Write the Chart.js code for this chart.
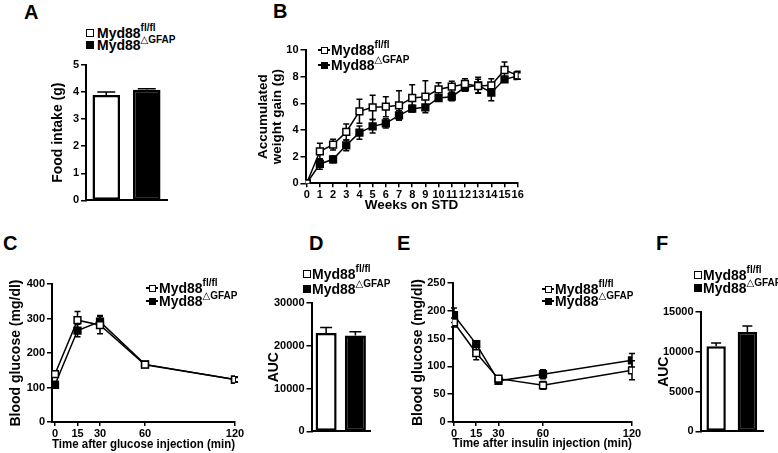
<!DOCTYPE html>
<html>
<head>
<meta charset="utf-8">
<script src="https://cdn.jsdelivr.net/npm/chart.js@4"></script>
<style>
  body { margin: 0; background: #fff; }
  #page { position: relative; width: 778px; height: 453px; overflow: hidden; font-family: 'Liberation Sans', Arial, sans-serif; font-weight: bold; color: #000; }
  canvas { position: absolute; }
  .letter { position: absolute; font-size: 20px; line-height: 20px; }
  .row { position: absolute; height: 16px; display: flex; align-items: center; font-size: 14px; white-space: nowrap; }
  .row sup { font-size: 10px; position: relative; top: -5px; line-height: 10px; }
  .tri { font-family: 'DejaVu Sans', sans-serif; font-weight: normal; font-size: 10px; }
  .sq { display: inline-block; box-sizing: border-box; width: 8px; height: 8px; border: 1.5px solid #000; }
  .lm { display: inline-block; position: relative; width: 12px; height: 8px; }
  .lm .ln { position: absolute; left: 0; right: 0; top: 3.25px; height: 1.5px; background: #000; }
  .lm .pt { position: absolute; left: 2.5px; top: 0.5px; width: 7px; height: 7px; box-sizing: border-box; border: 1.5px solid #000; }
</style>
</head>
<body>
<div id="page">
  <canvas id="chartA" width="122" height="154" style="left:50px;top:55px"></canvas>
  <canvas id="chartB" width="276" height="173" style="left:256px;top:40px"></canvas>
  <canvas id="chartC" width="242" height="182" style="left:8px;top:270px"></canvas>
  <canvas id="chartD" width="109" height="147" style="left:266px;top:293px"></canvas>
  <canvas id="chartE" width="238" height="181" style="left:410px;top:270px"></canvas>
  <canvas id="chartF" width="112" height="138" style="left:656px;top:302px"></canvas>
</div>
<script>
// groups
const groups = ['Myd88fl/fl', 'Myd88\u25B3GFAP'];

// A - food intake
const foodIntake = [3.89, 4.09];
const foodIntakeErr = [0.11, 0.03];

// B - weight gain on STD
const weeks = [0, 1, 2, 3, 4, 5, 6, 7, 8, 9, 10, 11, 12, 13, 14, 15, 16];
const weightFl = [0, 2.4, 2.9, 3.85, 5.4, 5.7, 5.75, 5.85, 6.4, 6.5, 7.05, 7.25, 7.45, 7.3, 7.35, 8.5, 8.1];
const weightFlErr = [0, 0.6, 0.4, 0.6, 0.9, 0.9, 0.75, 1.1, 1.0, 1.2, 0.5, 0.4, 0.4, 0.5, 0.5, 0.6, 0.3];
const weightKo = [0, 1.45, 1.8, 2.85, 3.8, 4.27, 4.5, 5.1, 5.6, 5.7, 6.4, 6.5, 7.2, 7.35, 6.8, 7.8, 8.05];
const weightKoErr = [0, 0.4, 0.25, 0.4, 0.5, 0.5, 0.35, 0.35, 0.25, 0.2, 0.2, 0.3, 0.3, 0.6, 0.6, 0.15, 0.25];

// C - GTT
const gttTimes = [0, 15, 30, 60, 120];
const gttFl = [139, 295, 281, 166, 123];
const gttFlErr = [8, 25, 25, 5, 8];
const gttKo = [108, 265, 291, 167, 123];
const gttKoErr = [8, 18, 18, 5, 6];

// D - GTT AUC
const gttAuc = [23000, 22400];
const gttAucErr = [1300, 900];

// E - ITT
const ittTimes = [0, 15, 30, 60, 120];
const ittFl = [179, 124, 78, 66, 93];
const ittFlErr = [8, 12, 5, 7, 17];
const ittKo = [192, 140, 74, 86, 111];
const ittKoErr = [13, 5, 4, 8, 12];

// F - ITT AUC
const ittAuc = [10700, 12500];
const ittAucErr = [400, 750];

Chart.defaults.font.family = "'Liberation Sans', Arial, sans-serif";
Chart.defaults.font.weight = 'bold';
Chart.defaults.font.size = 11;
Chart.defaults.color = '#000';
Chart.defaults.animation = false;
Chart.defaults.responsive = false;
Chart.defaults.plugins.legend.display = false;
Chart.defaults.plugins.tooltip.enabled = false;

// error bars (SEM), drawn under the markers
const errorBars = {
  id: 'errorBars',
  beforeDatasetsDraw(chart) {
    const ctx = chart.ctx;
    const y = chart.scales.y;
    const isBar = chart.config.type === 'bar';
    chart.data.datasets.forEach((ds, i) => {
      if (!ds.errors) return;
      const meta = chart.getDatasetMeta(i);
      meta.data.forEach((el, j) => {
        const e = ds.errors[j];
        if (!e) return;
        const raw = ds.data[j];
        const v = typeof raw === 'object' ? raw.y : raw;
        const top = y.getPixelForValue(v + e);
        const bot = isBar ? y.getPixelForValue(v) : y.getPixelForValue(v - e);
        const cap = ds.cap || 3;
        ctx.save();
        ctx.strokeStyle = '#000';
        ctx.lineWidth = 1.5;
        ctx.beginPath();
        ctx.moveTo(el.x, top); ctx.lineTo(el.x, bot);
        ctx.moveTo(el.x - cap, top); ctx.lineTo(el.x + cap, top);
        if (!isBar) { ctx.moveTo(el.x - cap, bot); ctx.lineTo(el.x + cap, bot); }
        ctx.stroke();
        ctx.restore();
      });
    });
  }
};

function yAxis(min, max, step, title, width, size, lh) {
  return {
    min: min, max: max,
    ticks: { stepSize: step, padding: 2, font: { size: 11, weight: 'bold' }, callback: v => String(v) },
    grid: { drawOnChartArea: false, tickLength: 5, color: '#000', lineWidth: 1.5 },
    border: { color: '#000', width: 2 },
    title: { display: true, text: title, padding: 0, font: { size: size || 14, weight: 'bold', lineHeight: lh || 1.2 } },
    afterFit: s => { s.width = width; }
  };
}

function xLinear(min, max, vals, title, size, height) {
  return {
    type: 'linear', min: min, max: max,
    afterBuildTicks: s => { s.ticks = vals.map(v => ({ value: v })); },
    ticks: { padding: 1, maxRotation: 0, autoSkip: false, font: { size: 11, weight: 'bold' }, callback: v => String(v) },
    grid: { drawOnChartArea: false, tickLength: 4, color: '#000', lineWidth: 1.5 },
    border: { color: '#000', width: 2 },
    title: { display: true, text: title, padding: 0, font: { size: size, weight: 'bold' } },
    afterFit: s => { s.height = height; }
  };
}

function xCategory(height) {
  return {
    type: 'category',
    ticks: { display: false },
    grid: { display: false },
    border: { color: '#000', width: 2 },
    afterFit: s => { s.height = height; }
  };
}

function lineSet(label, xs, ys, errs, fill) {
  return {
    label: label,
    data: xs.map((x, i) => ({ x: x, y: ys[i] })),
    errors: errs,
    borderColor: '#000',
    borderWidth: 1.5,
    pointStyle: 'rect',
    pointRadius: 4.8,
    pointBackgroundColor: fill,
    pointBorderColor: '#000',
    pointBorderWidth: 1.5,
    cap: 3
  };
}

function barSet(vals, errs, pct, cap) {
  return {
    data: vals,
    errors: errs,
    backgroundColor: ['#fff', '#000'],
    borderColor: '#000',
    borderWidth: 2.5,
    borderSkipped: false,
    barPercentage: pct,
    categoryPercentage: 1,
    cap: cap
  };
}

// A
new Chart(document.getElementById('chartA'), {
  type: 'bar',
  data: { labels: groups, datasets: [barSet(foodIntake, foodIntakeErr, 0.68, 9)] },
  options: {
    layout: { padding: { top: 10, right: 5, left: 0, bottom: 0 } },
    scales: { x: xCategory(3.5), y: yAxis(0, 5, 1, 'Food intake (g)', 36) }
  },
  plugins: [errorBars]
});

// B
new Chart(document.getElementById('chartB'), {
  type: 'line',
  data: { datasets: [
    lineSet(groups[0], weeks, weightFl, weightFlErr, '#fff'),
    lineSet(groups[1], weeks, weightKo, weightKoErr, '#000')
  ] },
  options: {
    layout: { padding: { top: 10, right: 14.3, left: 0, bottom: 0 } },
    scales: {
      x: xLinear(-0.09, 16, weeks, 'Weeks on STD', 13.5, 29.7),
      y: yAxis(0, 10, 2, ['Accumulated', 'weight gain (g)'], 49.5, 13.5, 1.05)
    }
  },
  plugins: [errorBars]
});

// C
new Chart(document.getElementById('chartC'), {
  type: 'line',
  data: { datasets: [
    lineSet(groups[0], gttTimes, gttFl, gttFlErr, '#fff'),
    lineSet(groups[1], gttTimes, gttKo, gttKoErr, '#000')
  ] },
  options: {
    layout: { padding: { top: 14, right: 15, left: 0, bottom: 0 } },
    scales: {
      x: xLinear(-2, 120, gttTimes, 'Time after glucose injection (min)', 12.3, 30),
      y: yAxis(0, 400, 100, 'Blood glucose (mg/dl)', 44)
    }
  },
  plugins: [errorBars]
});

// D
new Chart(document.getElementById('chartD'), {
  type: 'bar',
  data: { labels: groups, datasets: [barSet(gttAuc, gttAucErr, 0.72, 6)] },
  options: {
    layout: { padding: { top: 10, right: 5, left: 0, bottom: 0 } },
    scales: { x: xCategory(3), y: yAxis(0, 30000, 10000, 'AUC', 45.5) }
  },
  plugins: [errorBars]
});

// E
new Chart(document.getElementById('chartE'), {
  type: 'line',
  data: { datasets: [
    lineSet(groups[0], ittTimes, ittFl, ittFlErr, '#fff'),
    lineSet(groups[1], ittTimes, ittKo, ittKoErr, '#000')
  ] },
  options: {
    layout: { padding: { top: 13, right: 16, left: 0, bottom: 0 } },
    scales: {
      x: xLinear(-1, 120, ittTimes, 'Time after insulin injection (min)', 12.4, 29),
      y: yAxis(0, 250, 50, 'Blood glucose (mg/dl)', 42.5)
    }
  },
  plugins: [errorBars]
});

// F
new Chart(document.getElementById('chartF'), {
  type: 'bar',
  data: { labels: groups, datasets: [barSet(ittAuc, ittAucErr, 0.62, 5)] },
  options: {
    layout: { padding: { top: 10, right: 5, left: 0, bottom: 0 } },
    scales: { x: xCategory(3), y: yAxis(0, 15000, 5000, 'AUC', 44.5) }
  },
  plugins: [errorBars]
});

// panel letters and legends
const page = document.getElementById('page');
[['A', 24, 2], ['B', 273, 1], ['C', 3, 233], ['D', 309, 233], ['E', 397, 233], ['F', 656, 233]].forEach(p => {
  const d = document.createElement('div');
  d.className = 'letter';
  d.style.left = p[1] + 'px';
  d.style.top = p[2] + 'px';
  d.textContent = p[0];
  page.appendChild(d);
});

function legend(x, rows, kind, gap) {
  const sups = ['fl/fl', '<span class="tri">\u25B3</span>GFAP'];
  const fills = ['#fff', '#000'];
  rows.forEach((cy, i) => {
    const r = document.createElement('div');
    r.className = 'row';
    r.style.left = x + 'px';
    r.style.top = (cy - 8) + 'px';
    const mark = kind === 'box'
      ? '<span class="sq" style="background:' + fills[i] + '"></span>'
      : '<span class="lm"><span class="ln"></span><span class="pt" style="background:' + fills[i] + '"></span></span>';
    r.innerHTML = mark + '<span style="margin-left:' + gap + 'px">Myd88</span><sup>' + sups[i] + '</sup>';
    page.appendChild(r);
  });
}
legend(86, [33, 45], 'box', 3);
legend(318, [50, 65], 'line', 1);
legend(146, [288, 301], 'line', 1);
legend(303, [273.5, 289], 'box', 1);
legend(542, [289, 301], 'line', 1);
legend(694, [275, 288], 'box', 1);
</script>
</body>
</html>
